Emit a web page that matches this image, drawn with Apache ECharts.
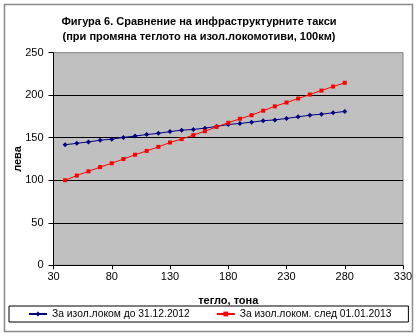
<!DOCTYPE html>
<html>
<head>
<meta charset="utf-8">
<script src="https://cdn.jsdelivr.net/npm/echarts@6/dist/echarts.min.js"></script>
<style>
  html, body { margin: 0; padding: 0; background: #fff; }
  #chart { width: 419px; height: 336px; }
</style>
</head>
<body>
<div id="chart"></div>
<script>
// Weight of the isolated locomotive, tonnes
const weights = [40, 50, 60, 70, 80, 90, 100, 110, 120, 130, 140, 150, 160,
                 170, 180, 190, 200, 210, 220, 230, 240, 250, 260, 270, 280];
// Infrastructure charge (BGN per 100 km) until 31.12.2012
const feeUntil2012 = [141.8, 143.4, 145.1, 147.1, 148.3, 150.4, 152.0, 153.7, 155.2, 157.2,
                      158.9, 159.7, 161.3, 163.3, 165.6, 166.8, 168.3, 170.0, 171.0, 172.7,
                      174.6, 176.5, 177.7, 179.3, 180.9];
// Infrastructure charge (BGN per 100 km) from 01.01.2013
const feeFrom2013 = [100.0, 105.5, 110.5, 115.5, 120.0, 125.0, 130.0, 134.5, 139.3, 144.4,
                     148.4, 153.1, 157.7, 162.8, 167.6, 172.3, 176.5, 181.8, 186.9, 191.4,
                     196.1, 200.8, 205.5, 210.2, 214.6];
const seriesNames = ['За изол.локом до 31.12.2012', 'За изол.локом. след 01.01.2013'];
const titleLines = ['Фигура 6. Сравнение на инфраструктурните такси',
                    '(при промяна теглото на изол.локомотиви, 100км)'];
const xAxisName = 'тегло, тона';
const yAxisName = 'лева';

const FONT = '"Liberation Sans", Arial, sans-serif';
const pairs = (xs, ys) => xs.map((x, i) => [x, ys[i]]);

const chart = echarts.init(document.getElementById('chart'), null, { renderer: 'canvas' });
chart.setOption({
  animation: false,
  backgroundColor: '#ffffff',
  textStyle: { fontFamily: FONT },
  title: {
    text: titleLines.join('\n'),
    left: 199,
    top: 14,
    padding: 0,
    textAlign: 'center',
    textStyle: { fontFamily: FONT, fontSize: 11, fontWeight: 'bold', color: '#000', lineHeight: 15 }
  },
  graphic: [{
    type: 'rect',
    shape: { x: 4.5, y: 4.5, width: 408, height: 327 },
    style: { fill: 'none', stroke: '#8a8a8a', lineWidth: 1.5 },
    z: -1
  }],
  grid: {
    left: 53.5, right: 16, top: 52.7, bottom: 70.7,
    containLabel: false,
    outerBoundsMode: 'none',
    show: true,
    backgroundColor: '#c0c0c0',
    borderColor: '#808080',
    borderWidth: 1
  },
  legend: {
    left: 9, top: 306,
    width: 400,
    padding: [3, 17, 3, 19],
    itemGap: 26,
    itemWidth: 18, itemHeight: 6,
    borderColor: '#000', borderWidth: 1,
    textStyle: { fontFamily: FONT, fontSize: 10.3, color: '#000' },
    data: seriesNames
  },
  xAxis: {
    type: 'value',
    min: 30, max: 330, interval: 50,
    name: xAxisName,
    nameLocation: 'middle',
    nameGap: 30,
    nameMoveOverlap: false,
    nameTextStyle: { fontFamily: FONT, fontSize: 11, fontWeight: 'bold', color: '#000' },
    axisLine: { show: true, onZero: false, lineStyle: { color: '#000', width: 1 } },
    axisTick: { show: true, inside: false, length: 4, lineStyle: { color: '#000' } },
    axisLabel: { fontFamily: FONT, fontSize: 11, color: '#000', margin: 6 },
    splitLine: { show: false }
  },
  yAxis: {
    type: 'value',
    min: 0, max: 250, interval: 50,
    name: yAxisName,
    nameLocation: 'middle',
    nameGap: 30,
    nameMoveOverlap: false,
    nameRotate: 90,
    nameTextStyle: { fontFamily: FONT, fontSize: 11, fontWeight: 'bold', color: '#000' },
    axisLine: { show: true, lineStyle: { color: '#000', width: 1 } },
    axisTick: { show: true, inside: false, length: 5, lineStyle: { color: '#000' } },
    axisLabel: { fontFamily: FONT, fontSize: 11, color: '#000', margin: 10 },
    splitLine: { show: true, showMinLine: false, showMaxLine: false, lineStyle: { color: '#000', width: 1 } }
  },
  series: [
    {
      name: seriesNames[0],
      type: 'line',
      data: pairs(weights, feeUntil2012),
      symbol: 'diamond',
      symbolSize: 5,
      color: '#000080',
      lineStyle: { color: '#000080', width: 1 },
      itemStyle: { color: '#000080' }
    },
    {
      name: seriesNames[1],
      type: 'line',
      data: pairs(weights, feeFrom2013),
      symbol: 'rect',
      symbolSize: 4,
      color: '#ff0000',
      lineStyle: { color: '#ff0000', width: 1 },
      itemStyle: { color: '#ff0000' }
    }
  ]
});
</script>
</body>
</html>
